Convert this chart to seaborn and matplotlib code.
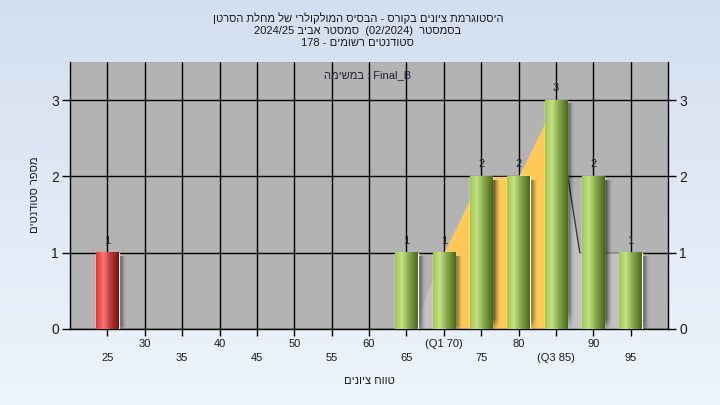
import re
import numpy as np
import pandas as pd
import matplotlib
matplotlib.use('Agg')
import matplotlib.pyplot as plt
import seaborn as sns
from matplotlib.colors import LinearSegmentedColormap

# נתוני הגרף
grades = [25, 65, 70, 75, 80, 85, 90, 95]
counts = [1, 1, 1, 2, 2, 3, 2, 1]
status = ['fail', 'pass', 'pass', 'pass', 'pass', 'pass', 'pass', 'pass']
tick_values = [25, 30, 35, 40, 45, 50, 55, 60, 65, 70, 75, 80, 85, 90, 95]
tick_text = ['25', '30', '35', '40', '45', '50', '55', '60', '65',
             '(Q1 70)', '75', '80', '(Q3 85)', '90', '95']
q1_grade, q3_grade = 70, 85
# קו המשטח האפור שמאחורי העמודות (נקרא מהתמונה)
area_x = [65.8, 70, 75, 80, 85, 88.2, 95, 95.5]
area_y = [0, 1, 2, 2, 3, 1, 1, 0]

title_lines = ['היסטוגרמת ציונים בקורס - הבסיס המולקולרי של מחלת הסרטן',
               'בסמסטר  (02/2024)  סמסטר אביב 2024/25',
               'סטודנטים רשומים - 178']
x_title = 'טווח ציונים'
y_title = 'מספר סטודנטים'
task_text = 'Final_B : במשימה'


def rtl(s):
    # matplotlib לא הופך טקסט מימין לשמאל - סדר חזותי פשוט
    s = s[::-1]
    s = re.sub(r'[A-Za-z0-9_/.]+', lambda m: m.group(0)[::-1], s)
    return s.translate(str.maketrans('()', ')('))


sns.set_style('white')
plt.rcParams['font.family'] = ['Liberation Sans', 'DejaVu Sans']

fig = plt.figure(figsize=(7.2, 4.05), dpi=100)

# רקע מדורג
bg = fig.add_axes([0, 0, 1, 1], zorder=-1)
bg_cmap = LinearSegmentedColormap.from_list('bg', ['#eef4fc', '#d3dff0'])
bg.imshow(np.linspace(0, 1, 256)[::-1, None], cmap=bg_cmap, aspect='auto', extent=[0, 1, 0, 1])
bg.axis('off')

ax = fig.add_axes([70 / 720, 1 - 329 / 405, 598 / 720, 267 / 405])
ax.set_facecolor('#b3b3b3')

df = pd.DataFrame({'grade': grades, 'count': counts, 'status': status})
sns.barplot(data=df, x='grade', y='count', hue='status', native_scale=True, width=0.6,
            dodge=False, palette={'fail': '#e03030', 'pass': '#8db84a'}, legend=False,
            ax=ax, zorder=3)

# משטח אפור ומשטח צהוב בין הרבעונים
ax.fill_between(area_x, area_y, color='#c2c2c2', lw=0, zorder=1)
sel = [i for i, g in enumerate(grades) if q1_grade <= g <= q3_grade]
ax.fill_between([grades[i] for i in sel], [counts[i] for i in sel], color='#ffc956', lw=0, zorder=1.2)
ax.plot(area_x[4:6], area_y[4:6], color='#3a3a3a', lw=1, zorder=1.5)

green_cmap = LinearSegmentedColormap.from_list(
    'g', [(0, '#9fcb45'), (0.3, '#c6e18a'), (0.55, '#8fb352'), (1, '#4b6620')])
red_cmap = LinearSegmentedColormap.from_list(
    'r', [(0, '#ff2b2b'), (0.33, '#f27a7a'), (0.6, '#c43c3c'), (1, '#7a1414')])
grad = np.linspace(0, 1, 64)[None, :]
# צל מטושטש מימין לעמודה
sx = np.linspace(0, 1, 40)
sy = np.linspace(0, 1, 60)
shade = np.zeros((60, 40, 4))
shade[..., 3] = (0.85 * (1 - sx[None, :]) ** 1.6) * np.clip(sy[:, None] * 12, 0, 1)[::-1]

for p in ax.patches:
    x0, w, h = p.get_x(), p.get_width(), p.get_height()
    fc = p.get_facecolor()
    cmap = red_cmap if fc[0] > fc[1] else green_cmap
    ax.imshow(grad, cmap=cmap, extent=[x0, x0 + w, 0, h], aspect='auto', zorder=3.5)
    ax.imshow(shade, extent=[x0 + w - 0.1, x0 + w + 1.0, -0.05, h - 0.05], aspect='auto', zorder=2.5)

for g, c in zip(grades, counts):
    ax.annotate(str(c), (g, c), xytext=(0, 5), textcoords='offset points',
                ha='center', va='bottom', fontsize=8, color='#1e1e2a', zorder=5)

ax.set_xlim(20, 100)
ax.set_ylim(0, 3.5)
ax.set_xticks(tick_values)
ax.set_xticklabels([('\n' + t) if i % 2 == 0 else t for i, t in enumerate(tick_text)])
for lab in ax.get_xticklabels():
    lab.set_linespacing(1.55)
ax.set_yticks([0, 1, 2, 3])
ax.tick_params(axis='x', bottom=True, length=5, width=1, color='black', pad=2,
               labelsize=8, labelcolor='#1a1a1a')
ax.tick_params(axis='y', left=True, right=True, labelright=True, length=6, width=1,
               color='black', pad=2, labelsize=10, labelcolor='#1a1a1a')
ax.set_axisbelow(True)
ax.grid(True, color='black', lw=1)
ax.set_xlabel('')
ax.set_ylabel('')
for side in ['left', 'right', 'bottom']:
    ax.spines[side].set_color('black')
    ax.spines[side].set_linewidth(1)
ax.spines['top'].set_visible(False)

ax.text(0.498, 0.951, rtl(task_text), transform=ax.transAxes, ha='center', va='center',
        fontsize=8, color='#20203a', zorder=6)

for i, line in enumerate(title_lines):
    fig.text(0.497, 1 - (18 + 12.5 * i) / 405, rtl(line), ha='center', va='center',
             fontsize=8, color='#1a1a1a')
fig.text(369 / 720, 1 - 381 / 405, rtl(x_title), ha='center', va='center', fontsize=8, color='#1a1a1a')
fig.text(35 / 720, 1 - 195 / 405, rtl(y_title), rotation=90, ha='center', va='center',
         fontsize=8, color='#1a1a1a')

fig.savefig('out.png', dpi=100)
